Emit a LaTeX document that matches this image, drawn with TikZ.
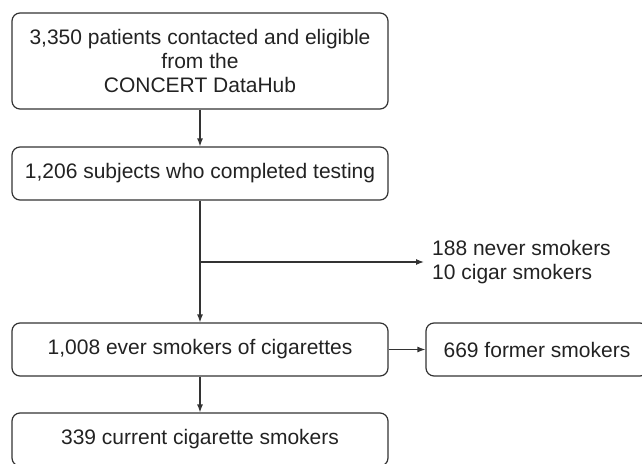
\documentclass[tikz,border=0pt]{standalone}
\usepackage{fontspec}
\setmainfont{Liberation Sans}
\usetikzlibrary{arrows.meta}
\definecolor{ink}{HTML}{222222}
\definecolor{edge}{HTML}{333333}
\begin{document}
\begin{tikzpicture}[x=1pt,y=-1pt,
  box/.style={draw=edge, line width=1.2pt, rounded corners=8pt, text=ink,
    inner sep=0pt, align=center, font=\fontsize{21}{24}\selectfont},
  arr/.style={draw=edge, line width=1.2pt, -{Latex[length=8pt,width=6pt]}},
  lbl/.style={text=ink, inner sep=0pt, align=left, font=\fontsize{21}{24}\selectfont}]
\clip (0,0) rectangle (642,463);
\node[box, minimum width=376pt, minimum height=96pt] (b1) at (200,61)
  {3,350 patients contacted and eligible\\from the\\CONCERT DataHub};
\node[box, minimum width=376pt, minimum height=53pt] (b2) at (200,173.5)
  {1,206 subjects who completed testing};
\node[box, minimum width=376pt, minimum height=53pt] (b3) at (200,349.5)
  {1,008 ever smokers of cigarettes};
\node[box, minimum width=222pt, minimum height=53pt] (b4) at (537,349.5)
  {669 former smokers};
\node[box, minimum width=376pt, minimum height=53pt] (b5) at (200,439.5)
  {339 current cigarette smokers};
\node[lbl, anchor=west] (ex) at (432,262) {188 never smokers\\10 cigar smokers};
\coordinate (br) at (200,262);
\draw[arr] (b1) -- (b2);
\draw[arr] (b2) -- (b3);
\draw[arr] (br) -- ([xshift=-8pt]ex.west);
\draw[arr] (b3) -- (b4);
\draw[arr] (b3) -- (b5);
\end{tikzpicture}
\end{document}
